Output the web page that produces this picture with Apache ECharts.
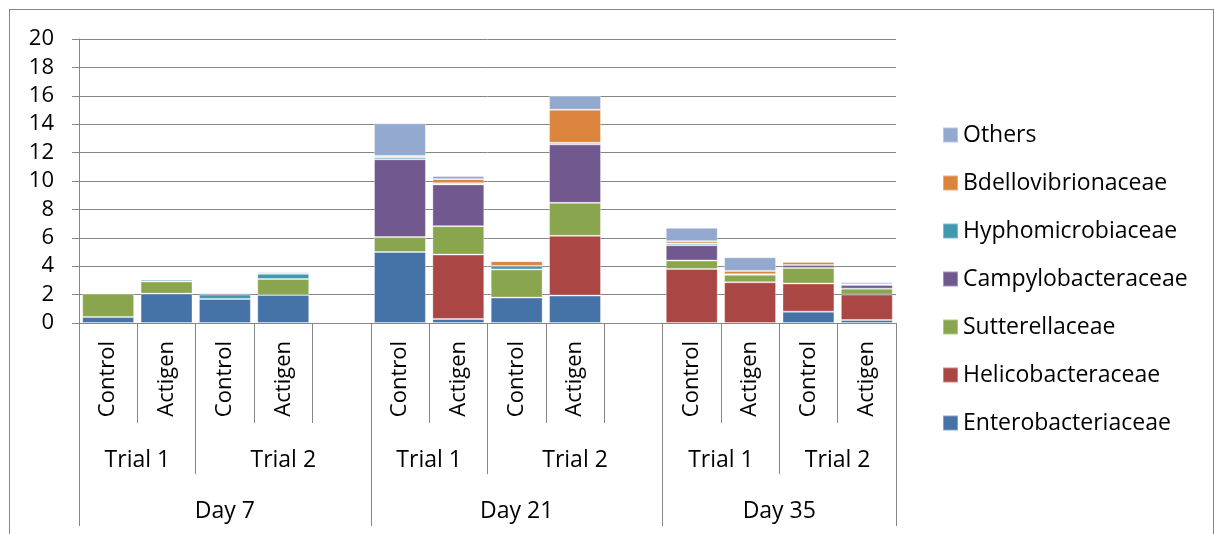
<!DOCTYPE html>
<html>
<head>
<meta charset="utf-8">
<script src="https://cdn.jsdelivr.net/npm/echarts@6/dist/echarts.min.js"></script>
<style>
  html, body { margin: 0; padding: 0; background: #fff; }
  #frame {
    position: absolute; left: 9px; top: 9px; width: 1205px; height: 600px;
    box-sizing: border-box; border: 1px solid #868686;
  }
  #chart { position: absolute; left: 0; top: 0; width: 1214px; height: 534px; }
</style>
</head>
<body>
<div id="frame"></div>
<div id="chart"></div>
<script>
// categories (empty slots separate the days)
const groups = ['Control', 'Actigen', 'Control', 'Actigen', '',
                'Control', 'Actigen', 'Control', 'Actigen', '',
                'Control', 'Actigen', 'Control', 'Actigen']
const trialLabels = ['Trial 1', 'Trial 2', 'Trial 1', 'Trial 2', 'Trial 1', 'Trial 2']
const trialSpans = [2, 3, 2, 3, 2, 2]
const dayLabels = ['Day 7', 'Day 21', 'Day 35']
const daySpans = [5, 5, 4]
const yTicks = [0, 2, 4, 6, 8, 10, 12, 14, 16, 18, 20]

// series values, bottom to top
const enterobacteriaceae = [0.42, 2.07, 1.69, 1.98, 0, 5.0, 0.28, 1.79, 1.93, 0, 0, 0, 0.8, 0.21]
const helicobacteraceae = [0, 0, 0, 0, 0, 0, 4.54, 0, 4.21, 0, 3.81, 2.87, 1.98, 1.79]
const sutterellaceae = [1.65, 0.85, 0, 1.12, 0, 1.05, 2.0, 1.98, 2.32, 0, 0.59, 0.52, 1.1, 0.42]
const campylobacteraceae = [0, 0, 0, 0, 0, 5.48, 2.94, 0, 4.12, 0, 1.08, 0.05, 0.21, 0.26]
const hyphomicrobiaceae = [0.05, 0.12, 0.31, 0.36, 0, 0.14, 0.09, 0.25, 0.11, 0, 0.12, 0, 0, 0.05]
const bdellovibrionaceae = [0, 0, 0, 0, 0, 0.09, 0.28, 0.33, 2.33, 0, 0.16, 0.23, 0.21, 0]
const others = [0.07, 0.05, 0.09, 0.12, 0, 2.3, 0.22, 0.07, 0.98, 0, 0.94, 0.96, 0.05, 0.14]

const seriesDefs = [
  { name: 'Enterobacteriaceae', data: enterobacteriaceae, color: '#4572A7' },
  { name: 'Helicobacteraceae', data: helicobacteraceae, color: '#AA4643' },
  { name: 'Sutterellaceae', data: sutterellaceae, color: '#89A54E' },
  { name: 'Campylobacteraceae', data: campylobacteraceae, color: '#71588F' },
  { name: 'Hyphomicrobiaceae', data: hyphomicrobiaceae, color: '#4198AF' },
  { name: 'Bdellovibrionaceae', data: bdellovibrionaceae, color: '#DB843D' },
  { name: 'Others', data: others, color: '#93A9CF' }
]

// boundaries and centres for the outer label rows
const spanInfo = (spans) => {
  const edges = [0]
  const centres = []
  spans.forEach(s => {
    const start = edges[edges.length - 1]
    centres.push(start + s / 2)
    edges.push(start + s)
  })
  return { edges, centres }
}
const trialInfo = spanInfo(trialSpans)
const dayInfo = spanInfo(daySpans)

const FONT = 'Open Sans'
const LINE = '#868686'

const outerAxis = (info, labels, tickLen, margin) => ({
  type: 'value',
  position: 'bottom',
  min: 0,
  max: groups.length,
  axisLine: { show: false },
  splitLine: { show: false },
  axisTick: { show: true, length: tickLen, customValues: info.edges, lineStyle: { color: LINE } },
  axisLabel: {
    show: true,
    customValues: info.centres,
    margin: margin,
    fontFamily: FONT,
    fontSize: 23,
    color: '#000',
    formatter: (v) => {
      const i = info.centres.findIndex(c => Math.abs(c - v) < 1e-6)
      return i >= 0 ? labels[i] : ''
    }
  }
})

const chart = echarts.init(document.getElementById('chart'))
chart.setOption({
  animation: false,
  grid: { left: 79, right: 318, top: 39, bottom: 211, containLabel: false },
  legend: {
    orient: 'vertical',
    left: 937,
    top: 118,
    itemWidth: 15,
    itemHeight: 15,
    itemGap: 24,
    icon: 'rect',
    data: seriesDefs.map(s => s.name).reverse(),
    textStyle: { fontFamily: FONT, fontSize: 23, color: '#000', lineHeight: 24 }
  },
  xAxis: [
    {
      type: 'category',
      data: groups,
      axisLine: { show: true, lineStyle: { color: LINE } },
      axisTick: { show: true, interval: 0, length: 100, lineStyle: { color: LINE } },
      axisLabel: {
        interval: 0, rotate: 90, margin: 18,
        fontFamily: FONT, fontSize: 22, color: '#000'
      }
    },
    outerAxis(trialInfo, trialLabels, 151, 126),
    outerAxis(dayInfo, dayLabels, 203, 177)
  ],
  yAxis: {
    type: 'value',
    min: 0,
    max: 20,
    interval: 2,
    axisLine: { show: true, lineStyle: { color: LINE } },
    axisTick: { show: true, length: 7, lineStyle: { color: LINE } },
    splitLine: { show: true, lineStyle: { color: LINE } },
    axisLabel: {
      margin: 25, fontFamily: FONT, fontSize: 22, color: '#000',
      customValues: yTicks
    }
  },
  series: seriesDefs.map(s => ({
    name: s.name,
    type: 'bar',
    stack: 'total',
    xAxisIndex: 0,
    barCategoryGap: '11%',
    itemStyle: { color: s.color, borderColor: 'rgba(255,255,255,0.35)', borderWidth: 1 },
    data: s.data.map(v => (v === 0 ? '-' : v))
  }))
})
</script>
</body>
</html>
